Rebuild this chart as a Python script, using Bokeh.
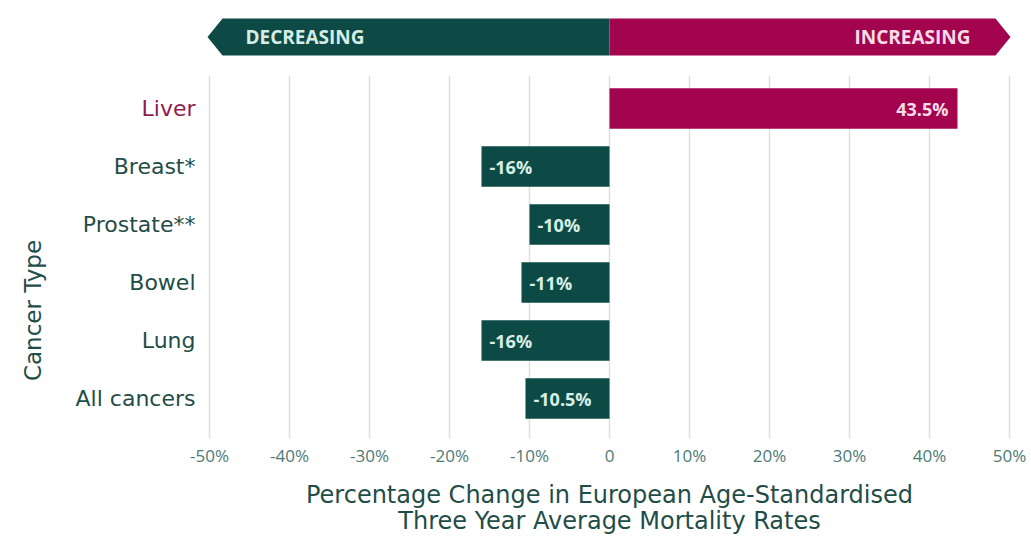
import math
from bokeh.plotting import figure
from bokeh.models import Range1d, ColumnDataSource
from bokeh.embed import file_html
from bokeh.resources import INLINE
from bokeh.core.properties import value

# ---------------- data ----------------
CATEGORIES = ["Liver", "Breast*", "Prostate**", "Bowel", "Lung", "All cancers"]
CHANGE = [43.5, -16, -10, -11, -16, -10.5]
BAR_LABELS = ["43.5%", "-16%", "-10%", "-11%", "-16%", "-10.5%"]
TICK_VALUES = [-50, -40, -30, -20, -10, 0, 10, 20, 30, 40, 50]
TICK_LABELS = ["-50%", "-40%", "-30%", "-20%", "-10%", "0", "10%", "20%", "30%", "40%", "50%"]
X_MIN, X_MAX = -50, 50
HEADER_LEFT = "DECREASING"
HEADER_RIGHT = "INCREASING"
Y_TITLE = "Cancer Type"
X_TITLE_1 = "Percentage Change in European Age-Standardised"
X_TITLE_2 = "Three Year Average Mortality Rates"

# ---------------- style / layout ----------------
DARK = "#0d4a45"
PINK = "#a3044e"
CAT_TEXT = "#1f4d48"
LIVER_TEXT = "#8e1d4f"
TICK_TEXT = "#4d7a73"
GRID = "#e0e0e0"
FONT = "Open Sans"
LABEL_FONT = "DejaVu Sans"

W, H = 1031, 536
PX_PER_X = 8.0        # pixels per percentage point
ZERO_PX = 609.0       # pixel column of 0 %
ROW_PX = 58.0         # pixels per category row
FIRST_ROW_PX = 108.0  # pixel row of first category centre


def x_at(px):
    return (px - ZERO_PX) / PX_PER_X


def y_at(py):
    return (FIRST_ROW_PX - py) / ROW_PX


p = figure(width=W, height=H, x_range=Range1d(x_at(0), x_at(W)), y_range=Range1d(y_at(H), y_at(0)),
           output_backend="svg", toolbar_location=None,
           min_border_left=0, min_border_right=0, min_border_top=0, min_border_bottom=0)
p.axis.visible = False
p.grid.visible = False
p.outline_line_color = None
p.background_fill_color = "white"
p.border_fill_color = "white"

# ---------------- header arrows ----------------
top, bot = y_at(18), y_at(55)
mid = (top + bot) / 2
notch = 15 / PX_PER_X
ltip = X_MIN - 2 / PX_PER_X
rtip = X_MAX + 1 / PX_PER_X
p.patch([ltip, ltip + notch, 0, 0, ltip + notch], [mid, top, top, bot, bot], color=DARK, line_color=None)
p.patch([rtip, rtip - notch, 0, 0, rtip - notch], [mid, top, top, bot, bot], color=PINK, line_color=None)
p.text(x=[X_MIN], y=[mid], text=[HEADER_LEFT], x_offset=36, text_align="left", text_baseline="middle",
       text_font=value(FONT), text_font_style="bold", text_font_size="19px", text_color="#d6ede7")
p.text(x=[X_MAX], y=[mid], text=[HEADER_RIGHT], x_offset=-39, text_align="right", text_baseline="middle",
       text_font=value(FONT), text_font_style="bold", text_font_size="19px", text_color="#f7dbe6")

# ---------------- grid lines & tick labels ----------------
grid_top, grid_bot = y_at(75), y_at(438)
p.segment(x0=TICK_VALUES, x1=TICK_VALUES, y0=[grid_top] * len(TICK_VALUES), y1=[grid_bot] * len(TICK_VALUES),
          line_color=GRID, line_width=1.5)
p.text(x=TICK_VALUES, y=[y_at(455)] * len(TICK_VALUES), text=TICK_LABELS, text_align="center",
       text_baseline="middle", text_font=value(FONT), text_font_size="17px", text_color=TICK_TEXT)

# ---------------- bars ----------------
rows = [-i for i in range(len(CATEGORIES))]
src = ColumnDataSource(dict(
    cat=CATEGORIES, row=rows, val=CHANGE, label=BAR_LABELS,
    color=[PINK if v > 0 else DARK for v in CHANGE],
    xoff=[-9 if v > 0 else 8 for v in CHANGE],
    align=["right" if v > 0 else "left" for v in CHANGE],
    tcolor=["#f8dde8" if v > 0 else "#d8eee8" for v in CHANGE],
    xcat=[X_MIN] * len(CATEGORIES),
    catcolor=[LIVER_TEXT if v > 0 else CAT_TEXT for v in CHANGE],
))
p.hbar(y="row", left=0, right="val", height=0.7, color="color", line_color=None, source=src)
p.text(x="val", y="row", text="label", x_offset="xoff", text_align="align", text_baseline="middle",
       text_color="tcolor", text_font=value(FONT), text_font_style="bold", text_font_size="18px", source=src)

# category labels
p.text(x="xcat", y="row", text="cat", x_offset=-14, text_align="right", text_baseline="middle",
       text_color="catcolor", text_font=value(LABEL_FONT), text_font_size="22px", source=src)

# ---------------- axis titles ----------------
p.text(x=[x_at(32)], y=[y_at(310)], text=[Y_TITLE], angle=math.pi / 2, text_align="center",
       text_baseline="middle", text_font=value(LABEL_FONT), text_font_size="23px", text_color=CAT_TEXT)
p.text(x=[0, 0], y=[y_at(494), y_at(520)], text=[X_TITLE_1, X_TITLE_2], text_align="center",
       text_baseline="middle", text_font=value(LABEL_FONT), text_font_size="24px", text_color=CAT_TEXT)

open("out.html", "w").write(file_html(p, INLINE))
